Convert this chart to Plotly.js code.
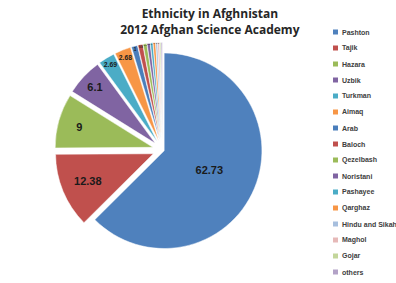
<!DOCTYPE html>
<html>
<head>
<meta charset="utf-8">
<script src="https://cdn.plot.ly/plotly-3.0.1.min.js"></script>
<style>html,body{margin:0;padding:0;background:#fff;}#chart{width:396px;height:283px;}</style>
</head>
<body>
<div id="chart"></div>
<script>
var groups = ["Pashton","Tajik","Hazara","Uzbik","Turkman","Aimaq","Arab","Baloch","Qezelbash","Noristani","Pashayee","Qarghaz","Hindu and Sikah","Maghol","Gojar","others"];
var shares = [62.73, 12.38, 9, 6.1, 2.69, 2.68, 1, 0.8, 0.6, 0.5, 0.4, 0.4, 0.3, 0.3, 0.2, 0.2];
var colors = ["#4F81BD","#C0504D","#9BBB59","#8064A2","#4BACC6","#F79646","#4A7EBB","#C0504D","#9BBB59","#8064A2","#4BACC6","#F79646","#A7BFDE","#E6B9B8","#C3D69B","#B3A2C7"];
var pulls = shares.map(function(v,i){return i===0?0.02:0.1;});

var W = 396, H = 283;
var trace = {
  type: "pie",
  labels: groups,
  values: shares,
  sort: false,
  direction: "clockwise",
  rotation: 0,
  pull: pulls,
  marker: {colors: colors, line: {color: "#ffffff", width: 0.5}},
  textinfo: "value",
  textposition: "inside",
  insidetextorientation: "horizontal",
  textfont: {family: "Liberation Sans, Arial, sans-serif", size: 11, color: "#1a1a1a", weight: "bold"},
  domain: {x: [0.02, 0.80], y: [0.09, 0.85]},
  hoverinfo: "label+value",
  showlegend: false
};

// legend built from the category list (fixed 16px row spacing like the reference)
var annotations = [];
var shapes = [];
groups.forEach(function(g, i){
  var yPix = 32 + 16 * i;
  var yp = 1 - yPix / H;
  shapes.push({type: "rect", xref: "paper", yref: "paper",
    x0: 333 / W, x1: 338 / W, y0: yp - 2.5 / H, y1: yp + 2.5 / H,
    fillcolor: colors[i], line: {width: 0}});
  annotations.push({xref: "paper", yref: "paper", x: 339.5 / W, y: yp,
    xanchor: "left", yanchor: "middle", showarrow: false, text: g,
    font: {family: "Liberation Sans, Arial, sans-serif", size: 7, color: "#404040", weight: "bold"}});
});

var layout = {
  width: W, height: H,
  margin: {l: 0, r: 0, t: 0, b: 0},
  paper_bgcolor: "#ffffff",
  title: {
    text: "<b>Ethnicity in Afghnistan<br>2012 Afghan Science Academy</b>",
    x: 0.53, xanchor: "center", y: 0.935, yanchor: "top",
    font: {family: "Open Sans, Liberation Sans, sans-serif", size: 12, color: "#262626"}
  },
  showlegend: false,
  annotations: annotations,
  shapes: shapes
};

Plotly.newPlot("chart", [trace], layout, {displayModeBar: false, staticPlot: true});
</script>
</body>
</html>
